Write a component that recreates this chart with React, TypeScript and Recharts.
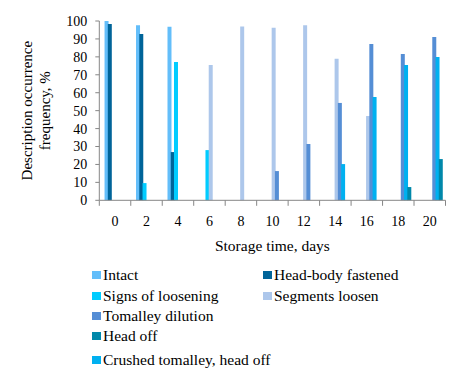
import { BarChart, Bar, XAxis, YAxis, Label } from "recharts";

const days = ["0", "2", "4", "6", "8", "10", "12", "14", "16", "18", "20"];

const intact = [100, 97.6, 96.8, null, null, null, null, null, null, null, null];
const headBody = [98.3, 92.8, 26.9, null, null, null, null, null, null, null, null];
const signs = [null, 9.6, 77.1, 28.0, null, null, null, null, null, null, null];
const segments = [null, null, null, 75.4, 97.0, 96.3, 97.6, 79.0, 47.0, null, null];
const tomalley = [null, null, null, null, null, 16.3, 31.4, 54.3, 87.2, 81.6, 91.1];
const crushed = [null, null, null, null, null, null, null, 20.2, 57.6, 75.5, 79.9];
const headOff = [null, null, null, null, null, null, null, null, null, 7.4, 23.0];

const yTicks = [0, 10, 20, 30, 40, 50, 60, 70, 80, 90, 100];

const series = [
  { key: "intact", name: "Intact", color: "#63BEFA", values: intact },
  { key: "headBody", name: "Head-body fastened", color: "#006499", values: headBody },
  { key: "signs", name: "Signs of loosening", color: "#00CCFF", values: signs },
  { key: "segments", name: "Segments loosen", color: "#ADC7EB", values: segments },
  { key: "tomalley", name: "Tomalley dilution", color: "#558ED5", values: tomalley },
  { key: "crushed", name: "Crushed tomalley, head off", color: "#00B0F0", values: crushed },
  { key: "headOff", name: "Head off", color: "#0088AA", values: headOff },
];

const legendRows = [["intact", "headBody"], ["signs", "segments"], ["tomalley"], ["headOff"], ["crushed"]];

const data = days.map((day, i) => {
  const row: Record<string, string | number | null> = { day };
  series.forEach((s) => (row[s.key] = s.values[i]));
  return row;
});

const FONT = "'Liberation Serif', 'Times New Roman', serif";
const AXIS = "#868686";
const CHART_W = 451;
const CHART_H = 255;
const Y_AXIS_W = 91.3;
const MARGIN = { top: 13, right: 13.5, bottom: 0, left: 0 };
const BAND = (CHART_W - Y_AXIS_W - MARGIN.left - MARGIN.right) / days.length;
const TICK_GAP = 15;

function DayTick({ x, y, payload, index }: any) {
  const axisY = y - TICK_GAP;
  return (
    <g>
      {index === 0 && (
        <line x1={x - BAND / 2} x2={x - BAND / 2} y1={axisY} y2={axisY + 5.5} stroke={AXIS} />
      )}
      <line x1={x + BAND / 2} x2={x + BAND / 2} y1={axisY} y2={axisY + 5.5} stroke={AXIS} />
      <text x={x} y={axisY + 26} textAnchor="middle" fontSize={14} fontFamily={FONT} fill="#000">
        {payload.value}
      </text>
    </g>
  );
}

function YTitle({ viewBox }: any) {
  const cx = 24.5;
  const cy = viewBox.y + viewBox.height / 2;
  return (
    <text transform={`rotate(-90 ${cx} ${cy})`} x={cx} y={cy} textAnchor="middle" fontSize={15} fontFamily={FONT} fill="#000">
      <tspan x={cx} dy={0}>Description occurrence</tspan>
      <tspan x={cx} dy={17.5}>frequency, %</tspan>
    </text>
  );
}

const legendTop = [259, 279.5, 300, 320, 344];
const legendLeft = [84, 255];

export default function App() {
  return (
    <div style={{ position: "relative", width: CHART_W, height: 366, fontFamily: FONT }}>
      <BarChart
        width={CHART_W}
        height={CHART_H}
        data={data}
        margin={MARGIN}
        barSize={4}
        barGap={-0.75}
        barCategoryGap={0}
      >
        <XAxis
          dataKey="day"
          interval={0}
          height={62.7}
          stroke={AXIS}
          tickLine={false}
          tickSize={0}
          tickMargin={TICK_GAP}
          tick={<DayTick />}
        >
          <Label
            value="Storage time, days"
            position="insideBottom"
            offset={12}
            fontSize={15.5}
            fontFamily={FONT}
            fill="#000"
          />
        </XAxis>
        <YAxis
          width={Y_AXIS_W}
          domain={[0, 100]}
          ticks={yTicks}
          interval={0}
          stroke={AXIS}
          tickSize={4}
          tickMargin={8}
          tick={{ fontSize: 14, fontFamily: FONT, fill: "#000" }}
        >
          <Label content={<YTitle />} />
        </YAxis>
        {/* empty slot in front of the group, the source chart leaves one too */}
        <Bar dataKey="spacer" legendType="none" fill="none" isAnimationActive={false} />
        {series.map((s) => (
          <Bar key={s.key} dataKey={s.key} name={s.name} fill={s.color} isAnimationActive={false} />
        ))}
      </BarChart>

      {legendRows.map((row, r) =>
        row.map((key, c) => {
          const s = series.find((item) => item.key === key)!;
          return (
            <div
              key={key}
              style={{
                position: "absolute",
                left: legendLeft[c],
                top: legendTop[r],
                height: 16,
                display: "flex",
                alignItems: "center",
                fontSize: 15.5,
                color: "#000",
                whiteSpace: "nowrap",
              }}
            >
              <span style={{ width: 9, height: 8, background: s.color, marginRight: 2 }} />
              {s.name}
            </div>
          );
        })
      )}
    </div>
  );
}
